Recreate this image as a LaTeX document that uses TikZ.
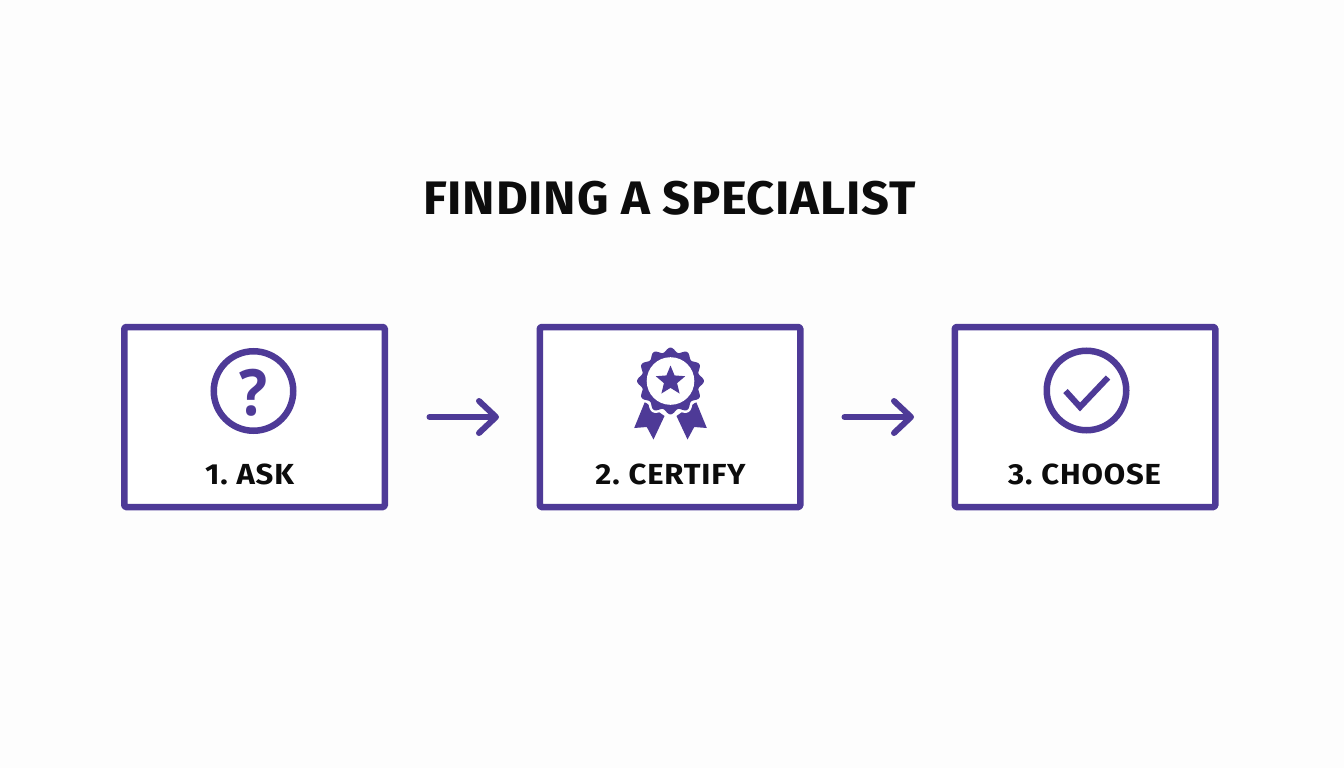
\documentclass[tikz,border=0pt]{standalone}
\usepackage{fontspec}
\setmainfont{Fira Sans}[BoldFont={* Bold}]
\newfontfamily\titlefont{Fira Sans Bold}[FakeStretch=1.04,LetterSpace=1.7]
\newfontfamily\labelfont{Fira Sans Bold}[FakeStretch=1.07,LetterSpace=2.9,WordSpace=0.75]
\newfontfamily\markfont{Open Sans}[BoldFont={* Bold},FakeStretch=0.92]
\usetikzlibrary{arrows.meta,shapes.geometric,calc}
\definecolor{brandpurple}{HTML}{4E3A97}
\definecolor{inkblack}{HTML}{0C0C0C}
\definecolor{paper}{HTML}{FDFDFD}
\tikzset{
  stepbox/.style={draw=brandpurple,line width=6.5pt,line join=round,rounded corners=1.5pt,fill=white,minimum width=260.5pt,minimum height=180pt,inner sep=0pt},
  ringicon/.style={circle,draw=brandpurple,line width=6.5pt,minimum size=79.5pt,inner sep=0pt},
  flowarrow/.style={draw=brandpurple,line width=6pt,line cap=round,-{Straight Barb[length=17pt,width=32pt,line width=6pt,round]}},
  steplabel/.style={text=inkblack,font=\labelfont\fontsize{29}{29}\selectfont,inner sep=0pt,anchor=base},
  titlelabel/.style={text=inkblack,font=\titlefont\fontsize{47}{47}\selectfont,inner sep=0pt,anchor=base},
  glyphmark/.style={text=brandpurple,font=\markfont\bfseries\fontsize{64}{64}\selectfont,inner sep=0pt,anchor=base}
}
\begin{document}
\begin{tikzpicture}[x=1pt,y=-1pt]
\useasboundingbox (0,0) rectangle (1344,768);
\fill[paper] (0,0) rectangle (1344,768);
\node[titlelabel] (title) at (669.5,214.5) {FINDING A SPECIALIST};
\node[stepbox] (ask) at (254.5,417) {};
\node[stepbox] (certify) at (670,417) {};
\node[stepbox] (choose) at (1085,417) {};
\node[ringicon] (askring) at (253.5,391) {};
\node[glyphmark] (askmark) at (253.5,415) {?};
\node[steplabel] (asklabel) at (249.5,484) {1. ASK};
\node[steplabel] (certlabel) at (670.5,484) {2. CERTIFY};
\node[steplabel] (chooselabel) at (1084.5,484) {3. CHOOSE};
\coordinate (a1s) at (429.5,417);
\coordinate (a1e) at (499,417);
\coordinate (a2s) at (844.5,417);
\coordinate (a2e) at (914,417);
\draw[flowarrow] (a1s) -- (a1e);
\draw[flowarrow] (a2s) -- (a2e);
% badge
\begin{scope}[shift={(670.5,381)}]
\fill[brandpurple] (-25.7,21) -- (-36.3,47) -- (-23.7,46) -- (-17,58.5) -- (-6,35) -- cycle;
\fill[brandpurple] (25.7,21) -- (36.3,47) -- (23.7,46) -- (17,58.5) -- (6,35) -- cycle;
\draw[white,line width=5pt,fill=white,line join=round]
  plot[domain=0:360,samples=181,smooth] (\x:{31.2+2.2*cos(12*\x)});
\fill[brandpurple]
  plot[domain=0:360,samples=181,smooth] (\x:{31.2+2.2*cos(12*\x)}) -- cycle;
\fill[white] (0,0) circle (23.8);
\fill[brandpurple,line join=round] (-90:15.5)
  \foreach \k in {1,...,9} {-- ({-90+36*\k}:{ifthenelse(mod(\k,2)==1,6.9,15.5)})} -- cycle;
\end{scope}
% check
\node[ringicon] (choosering) at (1086.5,390.5) {};
\coordinate (c1) at (1065.5,391);
\coordinate (c2) at (1080,407);
\coordinate (c3) at (1108,377.5);
\draw[brandpurple,line width=6pt,line join=miter] (c1) -- (c2) -- (c3);
\end{tikzpicture}
\end{document}
